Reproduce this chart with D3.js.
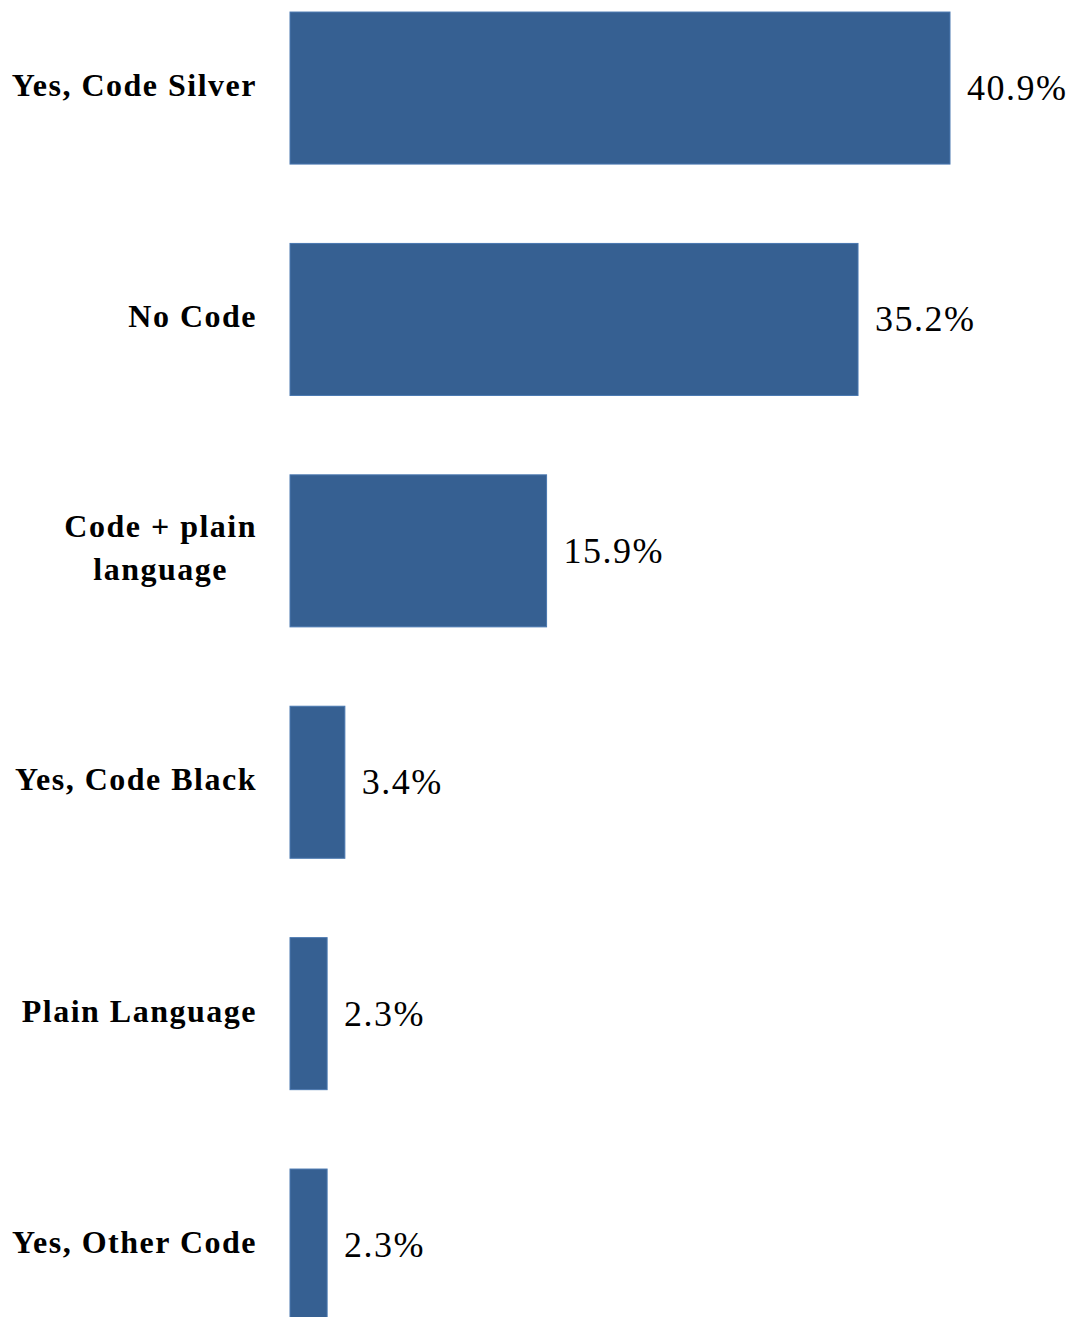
<!DOCTYPE html>
<html>
<head>
<meta charset="utf-8">
<script src="https://cdn.jsdelivr.net/npm/d3@7"></script>
<style>
  html, body { margin: 0; padding: 0; background: #fff; overflow: hidden; }
  svg { display: block; }
</style>
</head>
<body>
<svg id="chart" width="1074" height="1317"></svg>
<script>
const categories = ["Yes, Code Silver", "No Code", "Code + plain language", "Yes, Code Black", "Plain Language", "Yes, Other Code"];
const labelLines = [["Yes, Code Silver"], ["No Code"], ["Code + plain", "language"], ["Yes, Code Black"], ["Plain Language"], ["Yes, Other Code"]];
const values = [40.9, 35.2, 15.9, 3.4, 2.3, 2.3];

const svg = d3.select("#chart");
const x = d3.scaleLinear().domain([0, 40.9]).range([290, 950]);
const y = d3.scaleBand().domain(categories)
  .range([-27.3, -27.3 + 231.4 * (6 - 0.343 + 0.34)])
  .paddingInner(0.343).paddingOuter(0.17);

const fontFam = "Liberation Serif, DejaVu Serif, serif";

svg.selectAll("rect.bar").data(values).join("rect")
  .attr("class", "bar")
  .attr("x", x(0))
  .attr("y", (d, i) => y(categories[i]))
  .attr("width", d => x(d) - x(0))
  .attr("height", y.bandwidth())
  .attr("fill", "#366092")
  .attr("stroke", "#4a78b0")
  .attr("stroke-width", 1);

svg.selectAll("text.val").data(values).join("text")
  .attr("class", "val")
  .attr("x", d => x(d) + 17)
  .attr("y", (d, i) => y(categories[i]) + y.bandwidth() / 2 + 12)
  .attr("font-family", fontFam)
  .attr("font-size", 36)
  .attr("letter-spacing", 1.5)
  .attr("fill", "#000")
  .text(d => d.toFixed(1) + "%");

const lab = svg.selectAll("g.lab").data(categories).join("g").attr("class", "lab");
lab.each(function (c, i) {
  const g = d3.select(this);
  const lines = labelLines[i];
  const cy = y(c) + y.bandwidth() / 2;
  const lh = 43;
  const t = g.append("text")
    .attr("font-family", fontFam)
    .attr("font-size", 32)
    .attr("font-weight", "bold")
    .attr("letter-spacing", 1.5)
    .attr("fill", "#000");
  const tspans = lines.map((ln, k) => t.append("tspan")
    .attr("y", cy + 8 + (k - (lines.length - 1) / 2) * lh)
    .text(ln));
  const widths = tspans.map(s => s.node().getComputedTextLength());
  const maxW = Math.max(...widths);
  const center = 257 - maxW / 2;
  tspans.forEach(s => s.attr("x", center).attr("text-anchor", "middle"));
});
</script>
</body>
</html>
